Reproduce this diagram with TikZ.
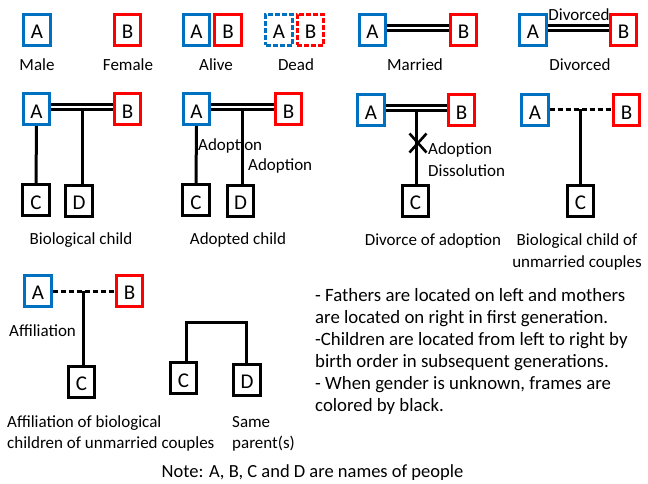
\documentclass[tikz,border=0pt]{standalone}
\usepackage{fontspec}
\setmainfont{Carlito}
\usetikzlibrary{calc}
\definecolor{malec}{HTML}{0070C0}
\definecolor{femalec}{HTML}{FF0000}
\tikzset{
  person/.style={draw, line width=3pt, minimum width=26.5pt, minimum height=31pt,
    inner sep=0pt, text height=18pt, text depth=0pt,
    font=\fontsize{21}{24}\selectfont, fill=white},
  male/.style={person, draw=malec},
  female/.style={person, draw=femalec},
  unknown/.style={person, draw=black},
  deadline/.style={dash pattern=on 5pt off 2pt},
  link/.style={line width=3pt, black},
  married/.style={line width=2.6pt, double=white, double distance=2.2pt, black},
  unmarried/.style={line width=3pt, black, dash pattern=on 5pt off 3pt},
  lbl/.style={inner sep=0pt, font=\fontsize{17}{20}\selectfont, anchor=base},
  lblw/.style={lbl, anchor=base west},
  notetxt/.style={inner sep=0pt, font=\fontsize{18.8}{22}\selectfont, anchor=base west}
}
\begin{document}
\begin{tikzpicture}[x=1pt, y=-1pt]
\fill[white] (0,0) rectangle (648,483);
\useasboundingbox (0,0) rectangle (648,483);

% ---- legend row: genders, alive/dead, married/divorced
\node[male] (m) at (37,29.5) {A};
\node[lbl] (mL) at (37,70) {Male};
\node[female] (f) at (127.5,29.5) {B};
\node[lbl] (fL) at (128,70) {Female};

\node[male] (alA) at (196.5,29.5) {A};
\node[female] (alB) at (228,29.5) {B};
\node[lbl] (alL) at (216,70) {Alive};

\node[male, deadline] (deA) at (279,29.5) {A};
\node[female, deadline] (deB) at (310.5,29.5) {B};
\node[lbl] (deL) at (296,70) {Dead};

\node[male] (maA) at (372.5,29.5) {A};
\node[female] (maB) at (463.5,29.5) {B};
\draw[married] ([yshift=1.5pt]maA.east) -- ([yshift=1.5pt]maB.west);
\node[lbl] (maL) at (415,70) {Married};

\node[male] (diA) at (533,29.5) {A};
\node[female] (diB) at (623.5,29.5) {B};
\draw[married] ([yshift=1.5pt]diA.east) -- ([yshift=1.5pt]diB.west);
\node[lbl] (diT) at (579,20) {Divorced};
\node[lbl] (diL) at (580,70) {Divorced};

% ---- biological child
\node[male] (bA) at (36.5,109) {A};
\node[female] (bB) at (127.5,109) {B};
\node[unknown] (bC) at (36,200) {C};
\node[unknown] (bD) at (79,200.5) {D};
\coordinate (bJ) at (82,107);
\draw[link] (bA.south) -- (bC.north);
\draw[link] (bJ) -- (bJ |- bD.north);
\draw[married] ([yshift=2pt]bA.east) -- ([yshift=2pt]bB.west);
\node[lbl] (bL) at (81,244) {Biological child};

% ---- adopted child
\node[male] (aA) at (196.5,109) {A};
\node[female] (aB) at (288.5,109) {B};
\node[unknown] (aC) at (196,200) {C};
\node[unknown] (aD) at (240.5,200.5) {D};
\coordinate (aJ) at (242,107);
\draw[link] (aA.south) -- (aC.north);
\draw[link] (aJ) -- (aJ |- aD.north);
\draw[married] ([yshift=2pt]aA.east) -- ([yshift=2pt]aB.west);
\node[lblw] (aT1) at (198,150) {Adoption};
\node[lblw] (aT2) at (248,170) {Adoption};
\node[lbl] (aL) at (238,244) {Adopted child};

% ---- divorce of adoption
\node[male] (dA) at (371,110) {A};
\node[female] (dB) at (461.5,110) {B};
\node[unknown] (dC) at (415.5,200.5) {C};
\coordinate (dJ) at (416,107);
\draw[link] (dJ) -- (dJ |- dC.north);
\draw[married] ([yshift=2pt]dA.east) -- ([yshift=2pt]dB.west);
\coordinate (dX) at (418,143);
\draw[line width=2.6pt] ($(dX)+(-8.5,-9.5)$) -- ($(dX)+(8.5,9.5)$)
                        ($(dX)+(-8.5,9.5)$) -- ($(dX)+(8.5,-9.5)$);
\node[lblw] (dT1) at (428,154) {Adoption};
\node[lblw] (dT2) at (428,176) {Dissolution};
\node[lbl] (dL) at (433,245) {Divorce of adoption};

% ---- biological child of unmarried couples
\node[male] (uA) at (535,110) {A};
\node[female] (uB) at (626.5,110) {B};
\node[unknown] (uC) at (580.5,200.5) {C};
\coordinate (uJ) at (580,109);
\draw[link] (uJ) -- (uJ |- uC.north);
\draw[unmarried] (uA.east |- uJ) -- (uB.west |- uJ);
\node[lbl] (uL1) at (577,245) {Biological child of};
\node[lbl] (uL2) at (577,267) {unmarried couples};

% ---- affiliation
\node[male] (fA) at (38,290.5) {A};
\node[female] (fB) at (129.5,290.5) {B};
\node[unknown] (fC) at (81.5,381.5) {C};
\coordinate (fJ) at (83,291);
\draw[link] (fJ) -- (fJ |- fC.north);
\draw[unmarried] (fA.east |- fJ) -- (fB.west |- fJ);
\node[lblw] (fT) at (9,336) {Affiliation};
\node[lblw] (fL1) at (7,427) {Affiliation of biological};
\node[lblw] (fL2) at (7,448) {children of unmarried couples};

% ---- same parent(s)
\node[unknown] (sC) at (183.5,378) {C};
\node[unknown] (sD) at (247,379.5) {D};
\coordinate (sJ1) at (186,322);
\coordinate (sJ2) at (246,322);
\draw[link, line join=miter] (sJ1 |- sC.north) -- (sJ1) -- (sJ2) -- (sJ2 |- sD.north);
\node[lblw] (sL1) at (232,427) {Same};
\node[lblw] (sL2) at (232,448) {parent(s)};

% ---- notes
\node[notetxt] (n1) at (315,301.5) {- Fathers are located on left and mothers};
\node[notetxt] (n2) at (315,323.5) {are located on right in first generation.};
\node[notetxt] (n3) at (315,345.5) {-Children are located from left to right by};
\node[notetxt] (n4) at (315,367.5) {birth order in subsequent generations.};
\node[notetxt] (n5) at (315,389.5) {- When gender is unknown, frames are};
\node[notetxt] (n6) at (315,411.5) {colored by black.};
\node[lbl, font=\fontsize{18.5}{22}\selectfont] (note) at (312.5,477.5) {Note: A, B, C and D are names of people};
\end{tikzpicture}
\end{document}
